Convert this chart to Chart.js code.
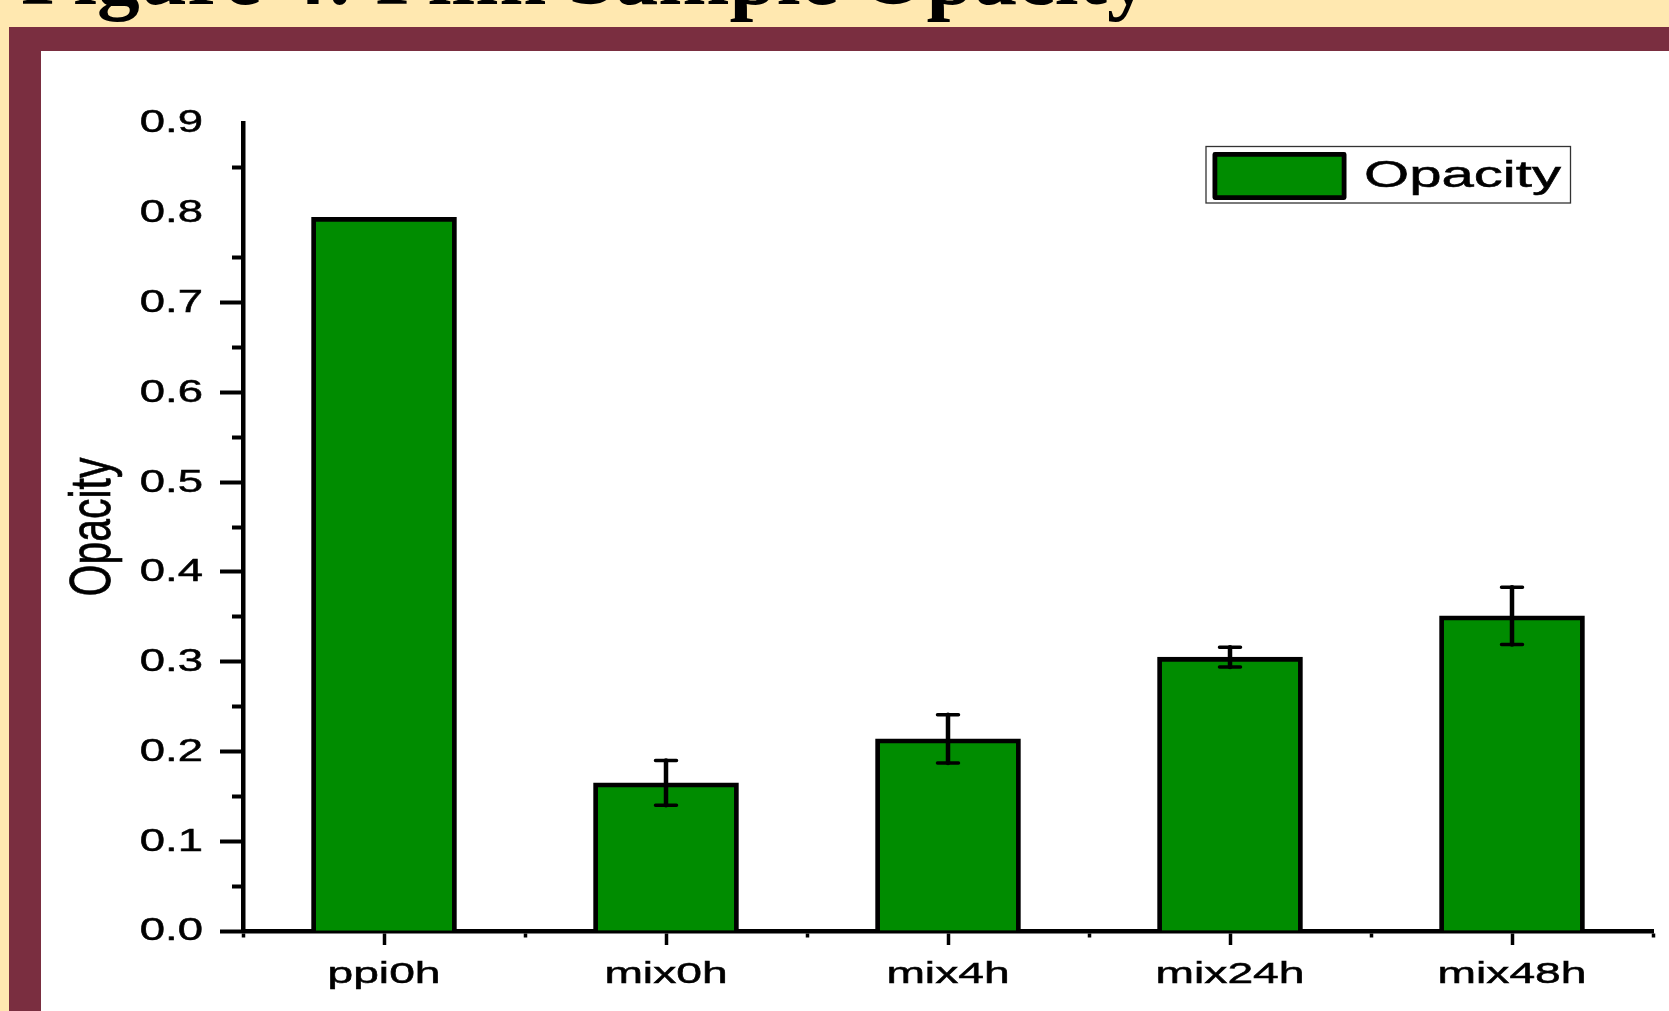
<!DOCTYPE html>
<html>
<head>
<meta charset="utf-8">
<title>Figure 4: Film Sample Opacity</title>
<script src="https://cdn.jsdelivr.net/npm/chart.js@4/dist/chart.umd.min.js"></script>
<style>
  html, body { margin: 0; padding: 0; width: 1669px; height: 1011px; overflow: hidden; background: #FFE8B0; }
  #heading { position: absolute; left: 21px; top: -67px; margin: 0; font: bold 85.5px 'Liberation Serif', 'Times New Roman', serif; line-height: 85px; white-space: nowrap; color: #000; }
  #frame { position: absolute; left: 9px; top: 27px; width: 1660px; height: 984px; background: #7A2E40; }
  #panel { position: absolute; left: 41px; top: 51px; width: 1628px; height: 960px; background: #fff; }
  #wrap { position: absolute; left: 0; top: 0; width: 1669px; height: 1011px; }
</style>
</head>
<body>
<h1 id="heading">Figure 4: Film Sample Opacity</h1>
<div id="frame"></div>
<div id="panel"></div>
<div id="wrap"><canvas id="chart" width="1669" height="1011"></canvas></div>
<script>
// Samples and measured opacity (mean and error)
const categories = ['ppi0h', 'mix0h', 'mix4h', 'mix24h', 'mix48h'];
const opacity = [0.795, 0.165, 0.214, 0.305, 0.351];
const opacityErr = [0, 0.025, 0.027, 0.011, 0.032];
const yTickLabels = ['0.0', '0.1', '0.2', '0.3', '0.4', '0.5', '0.6', '0.7', '0.8', '0.9'];
const yTitle = 'Opacity';

const FONT = '"Liberation Sans", Arial, sans-serif';
const BAR_GREEN = '#008C00';

// Draws text horizontally widened by sx (optionally rotated)
function wideText(ctx, text, x, y, size, sx, align, baseline, rotation) {
  ctx.save();
  ctx.translate(x, y);
  ctx.scale(sx, 1);
  if (rotation) ctx.rotate(rotation);
  ctx.font = size + 'px ' + FONT;
  ctx.fillStyle = '#000';
  ctx.strokeStyle = '#000';
  ctx.lineWidth = 0.5;
  ctx.textAlign = align;
  ctx.textBaseline = baseline;
  ctx.fillText(text, 0, 0);
  ctx.strokeText(text, 0, 0);
  ctx.restore();
}

const isMajor = v => Math.round(v * 100) % 10 === 0;
const tickValue = c => (c && c.tick) ? c.tick.value : null;

const decorations = {
  id: 'decorations',
  afterDatasetsDraw(chart) {
    // error bars
    const ctx = chart.ctx;
    const ys = chart.scales.y;
    const meta = chart.getDatasetMeta(0);
    ctx.save();
    ctx.strokeStyle = '#000';
    ctx.lineCap = 'round';
    opacity.forEach((v, i) => {
      const e = opacityErr[i];
      if (!e) return;
      const x = meta.data[i].x;
      const top = ys.getPixelForValue(v + e);
      const bot = ys.getPixelForValue(v - e);
      ctx.lineWidth = 4.5;
      ctx.beginPath(); ctx.moveTo(x, top); ctx.lineTo(x, bot); ctx.stroke();
      ctx.lineWidth = 3.5;
      ctx.beginPath();
      ctx.moveTo(x - 10.5, top); ctx.lineTo(x + 10.5, top);
      ctx.moveTo(x - 10.5, bot); ctx.lineTo(x + 10.5, bot);
      ctx.stroke();
    });
    ctx.restore();
  },
  afterDraw(chart) {
    const ctx = chart.ctx;
    const xs = chart.scales.x, ys = chart.scales.y;
    const area = chart.chartArea;

    // y tick labels
    ys.ticks.forEach(t => {
      if (!isMajor(t.value)) return;
      const k = Math.round(t.value * 10);
      wideText(ctx, yTickLabels[k], area.left - 40, ys.getPixelForValue(t.value) + 1, 30.5, 1.49, 'right', 'middle');
    });

    // y axis title
    wideText(ctx, yTitle, 110, (area.top + area.bottom) / 2, 41, 1.4, 'center', 'alphabetic', -Math.PI / 2);

    // x category labels
    categories.forEach((c, i) => {
      wideText(ctx, c, xs.getPixelForValue(i), area.bottom + 52, 30, 1.54, 'center', 'alphabetic');
    });

    // legend
    const ds = chart.data.datasets[0];
    const bx = area.right - 447, by = area.top + 23.5;
    ctx.save();
    ctx.lineWidth = 1.3;
    ctx.strokeStyle = '#333';
    ctx.strokeRect(bx, by, 364.5, 56.5);
    ctx.fillStyle = ds.backgroundColor;
    ctx.fillRect(bx + 8, by + 7, 131, 45);
    ctx.lineWidth = 4.8;
    ctx.lineJoin = 'round';
    ctx.strokeStyle = '#000';
    ctx.strokeRect(bx + 8.9, by + 7.9, 129.2, 43.2);
    ctx.restore();
    wideText(ctx, ds.label, bx + 158, by + 40, 37, 1.57, 'left', 'alphabetic');
  }
};

new Chart(document.getElementById('chart'), {
  type: 'bar',
  data: {
    datasets: [{
      label: 'Opacity',
      data: opacity.map((v, i) => ({ x: i, y: v })),
      backgroundColor: BAR_GREEN,
      borderColor: '#000',
      borderWidth: 4.8,
      borderSkipped: 'start',
      barThickness: 145
    }]
  },
  options: {
    responsive: false,
    animation: false,
    devicePixelRatio: 1,
    layout: { padding: { top: 123, right: 16, left: 0, bottom: 0 } },
    plugins: { legend: { display: false }, tooltip: { enabled: false } },
    scales: {
      x: {
        type: 'linear',
        min: -0.5,
        max: 4.5,
        offset: false,
        z: 1,
        afterFit(s) { s.height = 80; },
        ticks: { display: false, stepSize: 0.5 },
        grid: {
          offset: false,
          drawOnChartArea: false,
          tickLength: 14,
          tickWidth: 3.5,
          tickColor: '#000',
          tickBorderDash: c => {
            const v = tickValue(c);
            return (v === null || Number.isInteger(v)) ? [] : [4, 40];
          }
        },
        border: { color: '#000', width: 4.5 }
      },
      y: {
        min: 0,
        max: 0.9,
        afterFit(s) { s.width = 243; },
        ticks: { display: false, stepSize: 0.05 },
        grid: {
          drawOnChartArea: false,
          tickLength: 23,
          tickWidth: 4,
          tickColor: c => {
            const v = tickValue(c);
            return (v !== null && isMajor(v) && v > 0.75) ? 'rgba(0,0,0,0)' : '#000';
          },
          tickBorderDash: c => {
            const v = tickValue(c);
            return (v === null || isMajor(v)) ? [] : [0, 12, 40];
          }
        },
        border: { color: '#000', width: 4.5 }
      }
    }
  },
  plugins: [decorations]
});
</script>
</body>
</html>
